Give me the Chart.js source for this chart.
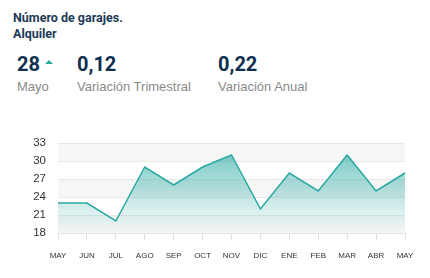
<!DOCTYPE html>
<html>
<head>
<meta charset="utf-8">
<script src="https://cdn.jsdelivr.net/npm/chart.js@4"></script>
<style>
  body { margin: 0; width: 430px; height: 278px; background: #fff; font-family: Roboto, "Liberation Sans", Arial, sans-serif; position: relative; overflow: hidden; }
  .title { position: absolute; left: 13px; top: 10px; font-size: 12.5px; font-weight: bold; color: #1c3a58; line-height: 16px; }
  .kpi { position: absolute; top: 52px; }
  .kpi .val { font-size: 20px; font-weight: bold; color: #0f2f4f; line-height: 24px; }
  .kpi .lbl { font-family: "Liberation Sans", Arial, sans-serif; font-size: 13px; color: #8a8a8a; line-height: 18px; margin-top: 2px; }
  .tri { display: inline-block; width: 0; height: 0; border-left: 4.5px solid transparent; border-right: 4.5px solid transparent; border-bottom: 4px solid #27a99e; vertical-align: top; margin: 8px 0 0 5px; }
  #wrap { position: absolute; left: 0; top: 120px; width: 430px; height: 158px; }
</style>
</head>
<body>
<div class="title">Número de garajes.<br>Alquiler</div>
<div class="kpi" style="left:17px"><div class="val">28<span class="tri"></span></div><div class="lbl">Mayo</div></div>
<div class="kpi" style="left:77px"><div class="val">0,12</div><div class="lbl">Variación Trimestral</div></div>
<div class="kpi" style="left:218px"><div class="val">0,22</div><div class="lbl">Variación Anual</div></div>
<div id="wrap"><canvas id="chart"></canvas></div>
<script>
const months = ['MAY', 'JUN', 'JUL', 'AGO', 'SEP', 'OCT', 'NOV', 'DIC', 'ENE', 'FEB', 'MAR', 'ABR', 'MAY'];
const garajes = [23, 23, 20, 29, 26, 29, 31, 22, 28, 25, 31, 25, 28];
const yTicks = [18, 21, 24, 27, 30, 33];

// alternate horizontal bands like the original
const bands = {
  id: 'bands',
  beforeDraw(chart) {
    const { ctx, chartArea: a, scales: { y } } = chart;
    ctx.save();
    ctx.fillStyle = '#f6f6f6';
    for (let i = yTicks.length - 1; i > 0; i -= 2) {
      const t = y.getPixelForValue(yTicks[i]), b = y.getPixelForValue(yTicks[i - 1]);
      ctx.fillRect(a.left, t, a.right - a.left, b - t);
    }
    ctx.restore();
  }
};

new Chart(document.getElementById('chart'), {
  type: 'line',
  data: {
    labels: months,
    datasets: [{
      data: garajes,
      borderColor: '#2aa9a2',
      borderWidth: 1.5,
      pointRadius: 0,
      tension: 0,
      fill: 'start',
      backgroundColor(ctx) {
        const a = ctx.chart.chartArea;
        if (!a) return 'rgba(42,169,162,0.4)';
        const g = ctx.chart.ctx.createLinearGradient(0, a.top, 0, a.bottom);
        g.addColorStop(0, 'rgba(42,169,162,0.7)');
        g.addColorStop(1, 'rgba(42,169,162,0)');
        return g;
      }
    }]
  },
  options: {
    responsive: true,
    maintainAspectRatio: false,
    animation: false,
    layout: { padding: { top: 23, right: 25, left: 0, bottom: 0 } },
    plugins: { legend: { display: false }, tooltip: { enabled: false } },
    scales: {
      x: {
        offset: false,
        grid: { drawOnChartArea: false, drawTicks: true, tickLength: 7, color: '#e2e2e2' },
        border: { color: '#e2e2e2' },
        ticks: { color: '#333', font: { family: 'Liberation Sans', size: 8 }, padding: 11, maxRotation: 0, autoSkip: false },
        afterFit(s) { s.height = 45; }
      },
      y: {
        min: 18, max: 33,
        afterBuildTicks(s) { s.ticks = yTicks.map(v => ({ value: v })); },
        grid: { color: '#e8e8e8', drawTicks: false },
        border: { display: false },
        ticks: { color: '#333', font: { family: 'Liberation Sans', size: 11.5 }, padding: 12 },
        afterFit(s) { s.width = 58; }
      }
    }
  },
  plugins: [bands]
});
</script>
</body>
</html>
